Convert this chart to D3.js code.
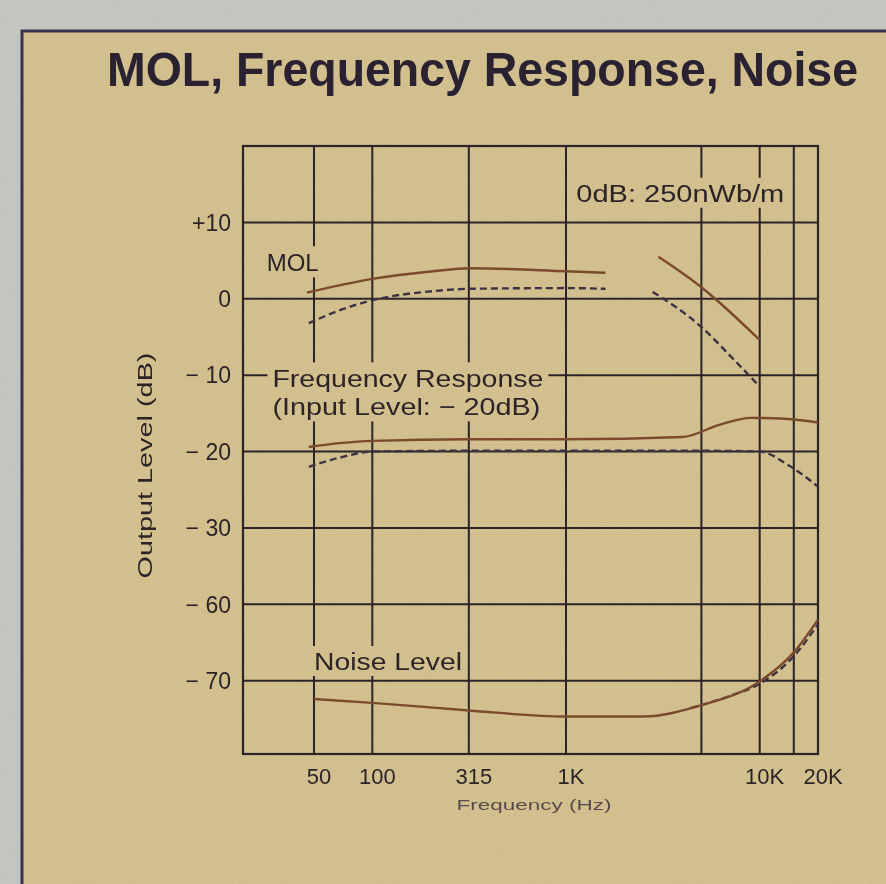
<!DOCTYPE html>
<html lang="en">
<head>
<meta charset="utf-8">
<title>MOL, Frequency Response, Noise</title>
<script src="https://d3js.org/d3.v7.min.js"></script>
<style>
  body { margin: 0; background: #c9cbc4; }
  svg { display: block; font-family: "Liberation Sans", Arial, sans-serif; }
</style>
</head>
<body>
<div id="chart"></div>
<script>
const w = 886, h = 884;

// axis ticks
const freqGrid = [50, 100, 315, 1000, 5000, 10000, 15000];
const freqTickValues = [50, 100, 315, 1000, 10000, 20000];
const freqTickLabels = ["50", "100", "315", "1K", "10K", "20K"];
const levelGrid = [10, 0, -10, -20, -30, -60, -70];
const levelLabels = ["+10", "0", "− 10", "− 20", "− 30", "− 60", "− 70"];

// MOL (dB), low band and high band
const molLowFreq = [46, 100, 206, 315, 1000, 1600];
const molLowSolid = [0.8, 2.6, 3.6, 4.0, 3.6, 3.4];
const molLowDashFreq = [47, 68, 100, 206, 315, 1000, 1600];
const molLowDash = [-3.2, -1.5, -0.2, 1.0, 1.3, 1.4, 1.3];
const molHighFreq = [3000, 5000, 7000, 10000];
const molHighSolid = [5.5, 1.5, -1.7, -5.4];
const molHighDashFreq = [2800, 5000, 7000, 10000];
const molHighDash = [0.9, -3.7, -7.4, -11.5];

// frequency response at -20dB input
const frFreq = [47, 68, 100, 315, 1000, 4000, 6200, 9000, 13500, 20000];
const frSolid = [-19.4, -18.9, -18.6, -18.4, -18.4, -18.1, -16.5, -15.6, -15.7, -16.2];
const frDashFreq = [47, 68, 100, 315, 1000, 5000, 10000, 14300, 20000];
const frDash = [-22.0, -20.8, -20.0, -19.9, -19.9, -19.9, -20.0, -21.9, -24.6];

// noise level
const noiseFreq = [50, 100, 315, 1000, 2500, 5000, 10000, 15000, 20000];
const noiseSolid = [-72.4, -72.9, -73.9, -74.7, -74.7, -73.2, -70.1, -66.3, -62.0];
const noiseDashFreq = [4400, 7000, 10000, 15000, 20000];
const noiseDash = [-73.6, -72.0, -70.4, -66.8, -62.6];

const zip = (f, v) => f.map((d, i) => ({ f: d, v: v[i] }));
const curves = [
  { pts: zip(molLowFreq, molLowSolid), dash: false },
  { pts: zip(molLowDashFreq, molLowDash), dash: true },
  { pts: zip(molHighFreq, molHighSolid), dash: false },
  { pts: zip(molHighDashFreq, molHighDash), dash: true },
  { pts: zip(frFreq, frSolid), dash: false },
  { pts: zip(frDashFreq, frDash), dash: true },
  { pts: zip(noiseDashFreq, noiseDash), dash: true },
  { pts: zip(noiseFreq, noiseSolid), dash: false }
];

const paper = "#d8c592";
const ink = "#2d2428";
const brown = "#7e4c2e";
const dashInk = "#3d3444";

const svg = d3.select("#chart").append("svg")
  .attr("width", w).attr("height", h);

const defs = svg.append("defs");
const noise = defs.append("filter").attr("id", "grain")
  .attr("x", 0).attr("y", 0).attr("width", "100%").attr("height", "100%");
noise.append("feTurbulence").attr("type", "fractalNoise")
  .attr("baseFrequency", 0.85).attr("numOctaves", 2).attr("seed", 3);
noise.append("feColorMatrix").attr("type", "matrix")
  .attr("values", "1 0 0 0 0  0 1 0 0 0  0 0 1 0 0  0 0 0 0 0.3");

// paper
svg.append("rect").attr("width", w).attr("height", h).attr("fill", "#c9cbc4");
svg.append("rect").attr("x", 22).attr("y", 31).attr("width", w).attr("height", h)
  .attr("fill", paper);
svg.append("path").attr("d", `M22,${h} V31 H${w}`)
  .attr("fill", "none").attr("stroke", "#3b3352").attr("stroke-width", 3);

svg.append("text")
  .attr("x", 107).attr("y", 86)
  .attr("font-size", 48).attr("font-weight", "bold")
  .attr("fill", "#2b2232")
  .attr("textLength", 751).attr("lengthAdjust", "spacingAndGlyphs")
  .text("MOL, Frequency Response, Noise");

// scales
const plotLeft = 243, plotRight = 818, plotTop = 146, plotBottom = 754;
const step = (plotBottom - plotTop) / 7.96;
const x = d3.scaleLog().domain([21.5, 20000]).range([plotLeft, plotRight]);
const y = d3.scaleLinear()
  .domain([-79.6, -60, -30, 20])
  .range([plotBottom, plotBottom - 1.96 * step, plotBottom - 2.96 * step, plotTop]);

// grid
const grid = svg.append("g").attr("stroke", ink).attr("stroke-width", 2);
grid.selectAll("line.v").data(freqGrid).enter().append("line")
  .attr("class", "v")
  .attr("x1", d => x(d)).attr("x2", d => x(d))
  .attr("y1", plotTop).attr("y2", plotBottom);
grid.selectAll("line.h").data(levelGrid).enter().append("line")
  .attr("class", "h")
  .attr("x1", plotLeft).attr("x2", plotRight)
  .attr("y1", d => y(d)).attr("y2", d => y(d));
svg.append("rect")
  .attr("x", plotLeft).attr("y", plotTop)
  .attr("width", plotRight - plotLeft).attr("height", plotBottom - plotTop)
  .attr("fill", "none").attr("stroke", ink).attr("stroke-width", 2.2);

// labels inside the plot, with a paper patch behind them
function note(lines, fx, dbv, size, widths) {
  const g = svg.append("g");
  const bg = g.append("rect").attr("fill", paper);
  lines.forEach((t, i) => {
    g.append("text")
      .attr("x", x(fx)).attr("y", y(dbv) + i * size * 1.17)
      .attr("font-size", size).attr("fill", ink)
      .attr("textLength", widths[i]).attr("lengthAdjust", "spacingAndGlyphs")
      .text(t);
  });
  const b = g.node().getBBox();
  bg.attr("x", b.x - 5).attr("y", b.y - 3)
    .attr("width", b.width + 10).attr("height", b.height + 4);
}
note(["MOL"], 28.5, 3.6, 24, [52]);
note(["0dB: 250nWb/m"], 1130, 12.7, 23, [208]);
note(["Frequency Response", "(Input Level: − 20dB)"], 30.5, -11.6, 24, [271, 268]);
note(["Noise Level"], 50, -68.6, 23, [148]);

// curves
const line = d3.line()
  .x(d => x(d.f)).y(d => y(d.v))
  .curve(d3.curveMonotoneX);
svg.append("g").selectAll("path").data(curves).enter().append("path")
  .attr("d", d => line(d.pts))
  .attr("fill", "none")
  .attr("stroke", d => d.dash ? dashInk : brown)
  .attr("stroke-width", 2.4)
  .attr("stroke-dasharray", d => d.dash ? "7,4" : null);

// y tick labels
svg.append("g").selectAll("text").data(levelGrid).enter().append("text")
  .attr("x", 231).attr("y", d => y(d)).attr("dy", "0.36em")
  .attr("text-anchor", "end").attr("font-size", 23).attr("fill", ink)
  .text((d, i) => levelLabels[i]);

// x tick labels
svg.append("g").selectAll("text").data(freqTickValues).enter().append("text")
  .attr("x", d => x(d) + 5).attr("y", 784)
  .attr("text-anchor", "middle").attr("font-size", 22).attr("fill", ink)
  .text((d, i) => freqTickLabels[i]);

svg.append("text")
  .attr("x", 534).attr("y", 810)
  .attr("text-anchor", "middle").attr("font-size", 15).attr("fill", "#5a4e4e")
  .attr("textLength", 155).attr("lengthAdjust", "spacingAndGlyphs")
  .text("Frequency (Hz)");

svg.append("text")
  .attr("transform", `translate(152,${(y(-10) + y(-30)) / 2 + 14}) rotate(-90)`)
  .attr("text-anchor", "middle").attr("font-size", 21).attr("fill", ink)
  .attr("textLength", 226).attr("lengthAdjust", "spacingAndGlyphs")
  .text("Output Level (dB)");

// print grain
svg.append("rect").attr("width", w).attr("height", h)
  .attr("filter", "url(#grain)").attr("opacity", 0.35)
  .style("mix-blend-mode", "multiply");
</script>
</body>
</html>
